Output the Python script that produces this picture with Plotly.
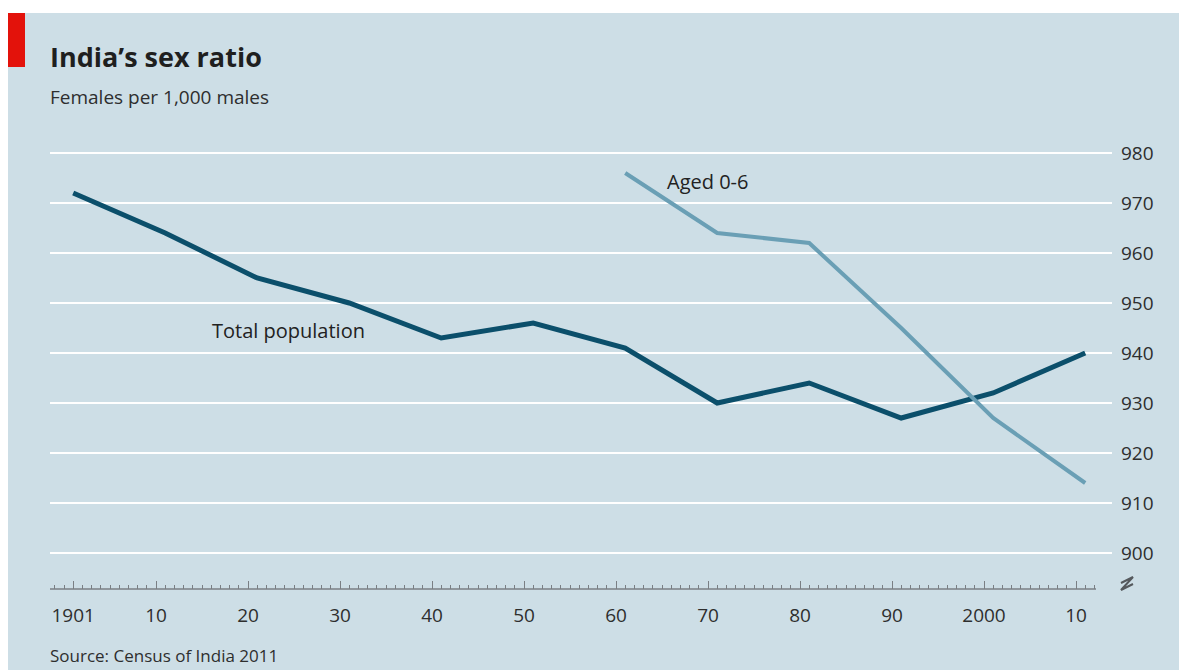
import plotly.graph_objects as go

# The page body has an 8px margin, so the figure is drawn 8px smaller and
# all pixel geometry below is given in screenshot pixels and shifted by OFF.
OFF = 8
W, H = 1187 - OFF, 670 - OFF

years = [1901, 1911, 1921, 1931, 1941, 1951, 1961, 1971, 1981, 1991, 2001, 2011]
total_population = [972, 964, 955, 950, 943, 946, 941, 930, 934, 927, 932, 940]
aged_years = [1961, 1971, 1981, 1991, 2001, 2011]
aged_0_6 = [976, 964, 962, 945, 927, 914]

x_tick_vals = [1901, 1910, 1920, 1930, 1940, 1950, 1960, 1970, 1980, 1990, 2000, 2010]
x_tick_text = ["1901", "10", "20", "30", "40", "50", "60", "70", "80", "90", "2000", "10"]
minor_vals = [y for y in range(1899, 2013) if y not in x_tick_vals]
y_tick_vals = [900, 910, 920, 930, 940, 950, 960, 970, 980]

FONT = "Open Sans"
BG = "#cddee6"
DARK = "#0b4f6b"
LIGHT = "#6a9fb5"
TXT = "#2e2e2e"

def px(x):
    return max(0.0, (x - OFF) / W)

def py(y):
    return min(1.0, 1 - (y - OFF) / H)

# pixel geometry (screenshot coordinates)
plot_left, plot_right = 50, 1112
plot_top, plot_bottom = 140, 589
px_per_year = 9.2
x0 = 1901 - (73.2 - plot_left) / px_per_year
x1 = 1901 + (plot_right - 73.2) / px_per_year
px_per_unit = 5.0
y_bot = 900 - (plot_bottom - 553) / px_per_unit
y_top = 980 + (153 - plot_top) / px_per_unit

fig = go.Figure()
fig.add_trace(go.Scatter(x=years, y=total_population, mode="lines",
                         line=dict(color=DARK, width=5), hoverinfo="skip"))
fig.add_trace(go.Scatter(x=aged_years, y=aged_0_6, mode="lines",
                         line=dict(color=LIGHT, width=4), hoverinfo="skip"))

shapes = [
    dict(type="rect", xref="paper", yref="paper", x0=0, x1=1, y0=0, y1=py(13),
         fillcolor=BG, line=dict(width=0), layer="below"),
    dict(type="rect", xref="paper", yref="paper", x0=px(8), x1=px(25), y0=py(67), y1=py(13),
         fillcolor="#e3120b", line=dict(width=0), layer="below"),
    dict(type="line", xref="x", yref="paper", x0=x0, x1=1901 + (1096 - 73.2) / px_per_year,
         y0=py(plot_bottom), y1=py(plot_bottom), line=dict(color="#7a7f84", width=1.5)),
    dict(type="path", xref="paper", yref="paper",
         path=f"M {px(1121)},{py(583)} L {px(1133)},{py(577)} L {px(1121)},{py(590)} L {px(1133)},{py(584)}",
         line=dict(color="#55595d", width=2)),
]

annotations = [
    dict(text="<b>India’s sex ratio</b>", x=px(48), y=py(57), xref="paper", yref="paper",
         xanchor="left", yanchor="middle", showarrow=False,
         font=dict(family=FONT, size=27, color="#1f1f1f")),
    dict(text="Females per 1,000 males", x=px(48), y=py(97), xref="paper", yref="paper",
         xanchor="left", yanchor="middle", showarrow=False,
         font=dict(family=FONT, size=19, color=TXT)),
    dict(text="Source: Census of India 2011", x=px(48), y=py(655), xref="paper", yref="paper",
         xanchor="left", yanchor="middle", showarrow=False,
         font=dict(family=FONT, size=17, color=TXT)),
    dict(text="Total population", x=px(210), y=py(330), xref="paper", yref="paper",
         xanchor="left", yanchor="middle", showarrow=False,
         font=dict(family=FONT, size=20, color="#222222")),
    dict(text="Aged 0-6", x=px(665), y=py(182), xref="paper", yref="paper",
         xanchor="left", yanchor="middle", showarrow=False,
         font=dict(family=FONT, size=20, color="#222222")),
]

fig.update_layout(
    width=W, height=H,
    margin=dict(l=0, r=0, t=0, b=0),
    paper_bgcolor="white", plot_bgcolor="rgba(0,0,0,0)",
    showlegend=False,
    shapes=shapes, annotations=annotations,
    xaxis=dict(domain=[px(plot_left), px(plot_right)], range=[x0, x1],
               tickmode="array", tickvals=x_tick_vals, ticktext=x_tick_text,
               ticks="inside", ticklen=8, tickwidth=1.2, tickcolor="#7a7f84",
               minor=dict(tickmode="array", tickvals=minor_vals, ticks="inside",
                          ticklen=4, tickwidth=1, tickcolor="#7a7f84", showgrid=False),
               showgrid=False, zeroline=False, showline=False,
               ticklabelstandoff=13,
               tickfont=dict(family=FONT, size=19, color=TXT), fixedrange=True),
    yaxis=dict(domain=[py(plot_bottom), py(plot_top)], range=[y_bot, y_top],
               side="right", tickmode="array", tickvals=y_tick_vals,
               showgrid=True, gridcolor="white", gridwidth=2,
               zeroline=False, showline=False, ticks="",
               ticklabelstandoff=8,
               tickfont=dict(family=FONT, size=19, color=TXT), fixedrange=True),
)

fig.write_html("out.html")
